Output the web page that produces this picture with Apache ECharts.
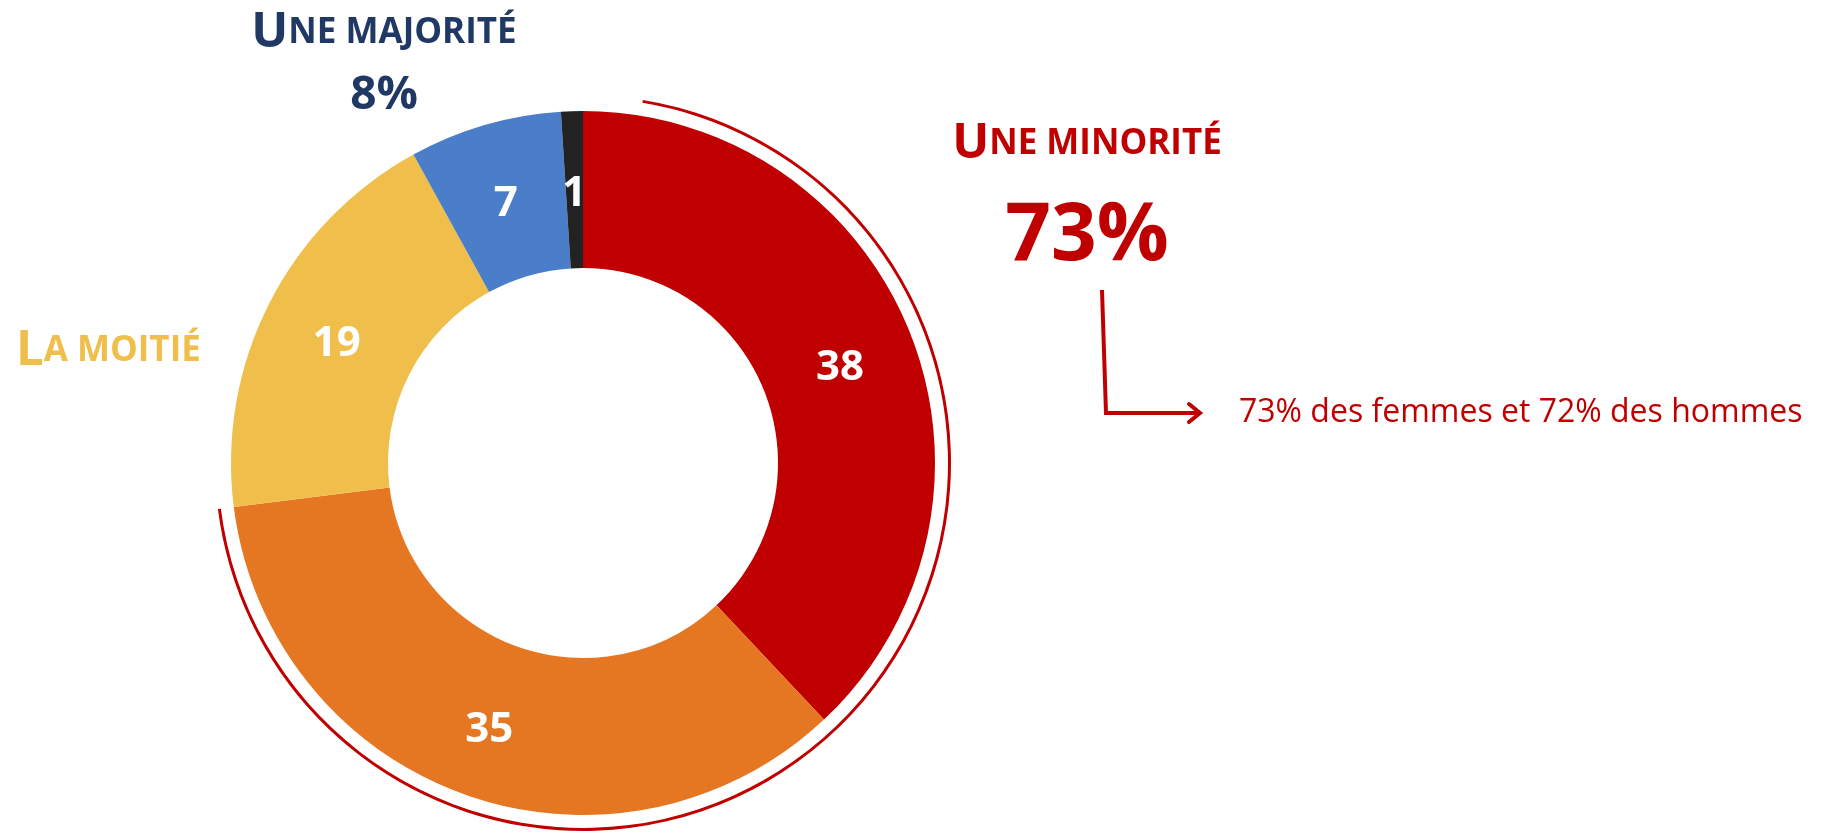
<!DOCTYPE html>
<html>
<head>
<meta charset="utf-8">
<script src="https://cdn.jsdelivr.net/npm/echarts@6/dist/echarts.min.js"></script>
<style>
  html, body { margin: 0; padding: 0; background: #fff; }
  #chart { width: 1836px; height: 835px; }
</style>
</head>
<body>
<div id="chart"></div>
<script>
// data
const categories = ['Une minorité (38)', 'Une minorité (35)', 'La moitié', 'Une majorité (7)', 'Une majorité (1)'];
const values = [38, 35, 19, 7, 1];
const colors = ['#C00000', '#E67722', '#F0BE4B', '#4A7EC8', '#222222'];
const minorityTotal = 73;
const majorityTotal = 8;
const detailText = '73% des femmes et 72% des hommes';

const chart = echarts.init(document.getElementById('chart'));
const FONT = '"Open Sans", sans-serif';

// the red arc round the "minority" slices starts a bit after 12 o'clock
const arcGap = 2.6;

function smallCaps(color) {
  return {
    a: { fontFamily: FONT, fontWeight: 'bold', fontSize: 49, fill: color },
    b: { fontFamily: FONT, fontWeight: 'bold', fontSize: 35, fill: color }
  };
}

const option = {
  backgroundColor: '#fff',
  animation: false,
  series: [
    {
      type: 'pie',
      center: [583, 463],
      radius: [195, 352],
      startAngle: 90,
      clockwise: true,
      silent: true,
      data: values.map((v, i) => ({
        name: categories[i],
        value: v,
        itemStyle: { color: colors[i] }
      })),
      label: {
        show: true,
        position: 'inside',
        formatter: '{c}',
        color: '#fff',
        fontFamily: FONT,
        fontWeight: 'bold',
        fontSize: 42
      },
      labelLayout: { dy: 7 },
      labelLine: { show: false }
    },
    {
      // thin outline arc for the minority share
      type: 'pie',
      center: [583, 463],
      radius: [365, 368],
      startAngle: 90 - arcGap * 3.6,
      clockwise: true,
      silent: true,
      label: { show: false },
      labelLine: { show: false },
      data: [
        { value: minorityTotal - arcGap, itemStyle: { color: '#C00000' } },
        { value: 100 - minorityTotal + arcGap, itemStyle: { color: 'transparent' } }
      ]
    }
  ],
  graphic: [
    {
      type: 'text',
      x: 384, y: 33,
      style: {
        text: '{a|U}{b|NE MAJORITÉ}',
        align: 'center', verticalAlign: 'middle',
        fill: '#1F3864',
        rich: smallCaps('#1F3864')
      }
    },
    {
      type: 'text',
      x: 384, y: 96,
      style: {
        text: majorityTotal + '%',
        align: 'center', verticalAlign: 'middle',
        fill: '#1F3864',
        font: 'bold 46px ' + FONT
      }
    },
    {
      type: 'text',
      x: 16, y: 351,
      style: {
        text: '{a|L}{b|A MOITIÉ}',
        align: 'left', verticalAlign: 'middle',
        fill: '#F0BE4B',
        rich: smallCaps('#F0BE4B')
      }
    },
    {
      type: 'text',
      x: 1087, y: 144,
      style: {
        text: '{a|U}{b|NE MINORITÉ}',
        align: 'center', verticalAlign: 'middle',
        fill: '#C00000',
        rich: smallCaps('#C00000')
      }
    },
    {
      type: 'text',
      x: 1087, y: 237,
      style: {
        text: minorityTotal + '%',
        align: 'center', verticalAlign: 'middle',
        fill: '#C00000',
        font: 'bold 80px ' + FONT
      }
    },
    {
      type: 'polyline',
      shape: { points: [[1102, 290], [1106, 413], [1198, 413]] },
      style: { stroke: '#C00000', lineWidth: 4, fill: null }
    },
    {
      type: 'polyline',
      shape: { points: [[1189, 404], [1200, 413], [1189, 422]] },
      style: { stroke: '#C00000', lineWidth: 4, fill: null, lineCap: 'round' }
    },
    {
      type: 'text',
      x: 1239, y: 413,
      style: {
        text: detailText,
        align: 'left', verticalAlign: 'middle',
        fill: '#C00000',
        font: '32px ' + FONT
      }
    }
  ]
};

option && chart.setOption(option);
</script>
</body>
</html>
